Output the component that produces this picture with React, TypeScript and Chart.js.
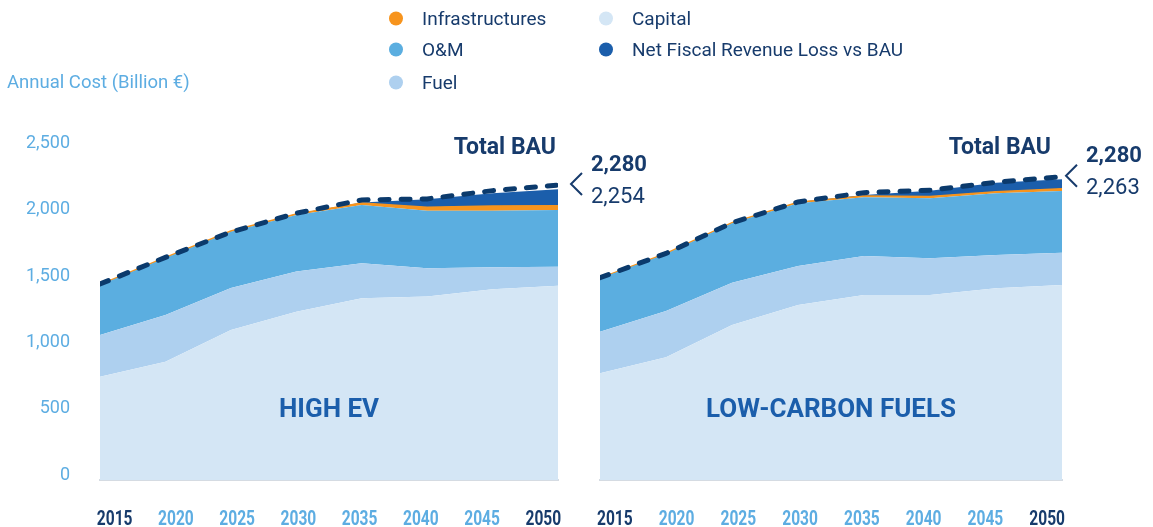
import React, { useEffect, useRef } from "react";
import { Chart, registerables } from "chart.js";

Chart.register(...registerables);

const years = [2015, 2020, 2025, 2030, 2035, 2040, 2045, 2050];
const yTicks = [0, 500, 1000, 1500, 2000, 2500];

// HIGH EV scenario (Billion €)
const evCapital = [728, 841, 1079, 1217, 1317, 1330, 1385, 1412];
const evFuel = [313, 351, 316, 301, 264, 213, 166, 143];
const evOM = [377, 429, 423, 426, 438, 433, 425, 426];
const evInfra = [2, 3, 5, 8, 15, 26, 36, 33];
const evNetFiscal = [0, 0, 0, 2, 3, 60, 95, 123];
const evBAU = [1425, 1625, 1815, 1957, 2057, 2065, 2127, 2169];

// LOW-CARBON FUELS scenario (Billion €)
const lcCapital = [753, 874, 1117, 1267, 1342, 1342, 1393, 1418];
const lcFuel = [313, 348, 318, 293, 294, 276, 250, 242];
const lcOM = [402, 429, 446, 472, 441, 451, 464, 464];
const lcInfra = [2, 3, 5, 8, 10, 13, 12, 18];
const lcNetFiscal = [0, 0, 0, 2, 7, 45, 68, 70];
const lcBAU = [1472, 1655, 1885, 2042, 2112, 2130, 2190, 2232];

const seriesNames = ["Capital", "Fuel", "O&M", "Infrastructures", "Net Fiscal Revenue Loss vs BAU"];
const bauLabel = "Total BAU";
const scenarios = [
  { name: "HIGH EV", bauValue: "2,280", scenarioValue: "2,254" },
  { name: "LOW-CARBON FUELS", bauValue: "2,280", scenarioValue: "2,263" },
];

const COLORS = {
  capital: "#d4e6f5",
  fuel: "#aed0ef",
  om: "#5baee0",
  infra: "#f7941d",
  net: "#1b5eab",
  bau: "#0b3a6c",
  navy: "#173b6c",
  light: "#5dade2",
};

const FONT = "Roboto, 'Noto Sans', sans-serif";

const pts = (arr: number[]) => years.map((x, i) => ({ x, y: arr[i] }));

const annotPlugin = {
  id: "annot",
  afterDraw(chart: any) {
    const o = chart.options.plugins.annot;
    if (!o) return;
    const { ctx, chartArea, scales } = chart;
    const y = scales.y;
    const bauY = y.getPixelForValue(o.bauEnd);
    ctx.save();
    // x tick labels (condensed look)
    const xs = scales.xl;
    ctx.font = `bold 21px ${FONT}`;
    ctx.textAlign = "center";
    ctx.textBaseline = "alphabetic";
    xs.ticks.forEach((t: any, i: number) => {
      const px = xs.getPixelForTick(i);
      const edge = t.value === years[0] || t.value === years[years.length - 1];
      ctx.fillStyle = edge ? COLORS.navy : COLORS.light;
      ctx.save();
      ctx.translate(px, chartArea.bottom + 45);
      ctx.scale(0.74, 1);
      ctx.fillText(String(t.value), 0, 0);
      ctx.restore();
    });
    // Total BAU
    ctx.fillStyle = COLORS.navy;
    ctx.font = `bold 23px ${FONT}`;
    ctx.textAlign = "right";
    ctx.textBaseline = "middle";
    ctx.fillText(bauLabel, chartArea.right - 2 + o.dx, chartArea.top + 20);
    // chevron
    const cx = chartArea.right + 13 + o.dx;
    ctx.strokeStyle = COLORS.navy;
    ctx.lineWidth = 2;
    ctx.beginPath();
    ctx.moveTo(cx + 11, bauY - 12);
    ctx.lineTo(cx, bauY - 1);
    ctx.lineTo(cx + 11, bauY + 10);
    ctx.stroke();
    // values
    ctx.textAlign = "left";
    ctx.font = `bold 22px ${FONT}`;
    ctx.fillText(o.bauValue, chartArea.right + 33 + o.dx, bauY - 20);
    ctx.font = `22px ${FONT}`;
    ctx.fillText(o.scenarioValue, chartArea.right + 33 + o.dx, bauY + 12);
    // scenario name
    ctx.fillStyle = COLORS.net;
    ctx.font = `bold 26px ${FONT}`;
    ctx.textAlign = "center";
    ctx.fillText(o.name, (chartArea.left + chartArea.right) / 2, y.getPixelForValue(470));
    ctx.restore();
  },
};

function makeConfig(
  data: { capital: number[]; fuel: number[]; om: number[]; infra: number[]; net: number[]; bau: number[] },
  sc: { name: string; bauValue: string; scenarioValue: string },
  showY: boolean,
  padding: any,
  dx: number
): any {
  const area = (label: string, arr: number[], color: string, fill: any, bw = 0) => ({
    label,
    data: pts(arr),
    backgroundColor: color,
    borderColor: color,
    borderWidth: bw,
    fill,
    pointRadius: 0,
    tension: 0,
    stack: "s",
  });
  return {
    type: "line",
    data: {
      datasets: [
        area(seriesNames[0], data.capital, COLORS.capital, "start"),
        area(seriesNames[1], data.fuel, COLORS.fuel, "-1"),
        area(seriesNames[2], data.om, COLORS.om, "-1"),
        area(seriesNames[3], data.infra, COLORS.infra, "-1", 1.5),
        area(seriesNames[4], data.net, COLORS.net, "-1"),
        {
          label: bauLabel,
          data: pts(data.bau),
          borderColor: COLORS.bau,
          borderWidth: 5,
          borderDash: [9, 12],
          borderCapStyle: "round",
          fill: false,
          pointRadius: 0,
          tension: 0,
          stack: "bau",
          order: -1,
        },
      ],
    },
    plugins: [annotPlugin],
    options: {
      responsive: false,
      animation: false,
      layout: { padding },
      plugins: {
        legend: { display: false },
        tooltip: { enabled: false },
        annot: { ...sc, dx, bauEnd: data.bau[data.bau.length - 1] },
      },
      scales: {
        x: { type: "linear", min: years[0], max: years[years.length - 1], display: false },
        xl: {
          type: "linear",
          position: "bottom",
          min: years[0] - 1.2,
          max: years[years.length - 1] + 1.2,
          afterBuildTicks: (axis: any) => {
            axis.ticks = years.map((v) => ({ value: v }));
          },
          afterFit: (axis: any) => {
            axis.height = 47;
            axis.paddingLeft = 0;
            axis.paddingRight = 0;
          },
          grid: { display: false, drawTicks: false },
          border: { display: true, color: "#d5dbe2", width: 2 },
          ticks: { display: false },
        },
        y: {
          type: "linear",
          stacked: true,
          min: -49,
          max: 2598,
          display: showY,
          afterBuildTicks: (axis: any) => {
            axis.ticks = yTicks.map((v) => ({ value: v }));
          },
          afterFit: (axis: any) => {
            if (showY) axis.width = 100;
            axis.paddingTop = 0;
            axis.paddingBottom = 0;
          },
          grid: { display: false, drawTicks: false },
          border: { display: false },
          ticks: {
            padding: 30,
            labelOffset: 2,
            font: { family: FONT, size: 18 },
            color: COLORS.light,
            callback: (v: any) => Number(v).toLocaleString("en-US"),
          },
        },
      },
    },
  };
}

function ChartCanvas(props: { config: any; left: number; width: number }) {
  const ref = useRef<HTMLCanvasElement | null>(null);
  useEffect(() => {
    if (!ref.current) return;
    const chart = new Chart(ref.current, props.config);
    return () => chart.destroy();
  }, []);
  return (
    <canvas
      ref={ref}
      width={props.width}
      height={527}
      style={{ position: "absolute", left: props.left, top: 0, width: props.width, height: 527 }}
    />
  );
}

const legendItems = [
  { label: "Infrastructures", color: COLORS.infra, x: 396, y: 18 },
  { label: "O&M", color: COLORS.om, x: 396, y: 49 },
  { label: "Fuel", color: COLORS.fuel, x: 396, y: 82 },
  { label: "Capital", color: COLORS.capital, x: 606, y: 18 },
  { label: "Net Fiscal Revenue Loss vs BAU", color: COLORS.net, x: 606, y: 49 },
];

export default function App() {
  const evCfg = makeConfig(
    { capital: evCapital, fuel: evFuel, om: evOM, infra: evInfra, net: evNetFiscal, bau: evBAU },
    scenarios[0],
    true,
    { top: 128, right: 112, bottom: 0, left: 0 },
    0
  );
  const lcCfg = makeConfig(
    { capital: lcCapital, fuel: lcFuel, om: lcOM, infra: lcInfra, net: lcNetFiscal, bau: lcBAU },
    scenarios[1],
    false,
    { top: 128, right: 91, bottom: 0, left: 20 },
    -9
  );
  return (
    <div style={{ position: "absolute", left: 0, top: 0, width: 1153, height: 527, background: "#fff", overflow: "hidden" }}>
      <ChartCanvas config={evCfg} left={0} width={670} />
      <ChartCanvas config={lcCfg} left={580} width={573} />
      <div
        style={{
          position: "absolute",
          left: 7,
          top: 82,
          transform: "translateY(-50%)",
          fontFamily: FONT,
          fontSize: 18.5,
          color: COLORS.light,
          whiteSpace: "nowrap",
        }}
      >
        Annual Cost (Billion €)
      </div>
      {legendItems.map((it) => (
        <div
          key={it.label}
          style={{
            position: "absolute",
            left: it.x - 7,
            top: it.y,
            transform: "translateY(-50%)",
            display: "flex",
            alignItems: "center",
            whiteSpace: "nowrap",
            fontFamily: FONT,
            fontSize: 19,
            color: COLORS.navy,
          }}
        >
          <span
            style={{
              display: "inline-block",
              width: 14,
              height: 14,
              borderRadius: "50%",
              background: it.color,
              marginRight: 19,
            }}
          />
          {it.label}
        </div>
      ))}
    </div>
  );
}
